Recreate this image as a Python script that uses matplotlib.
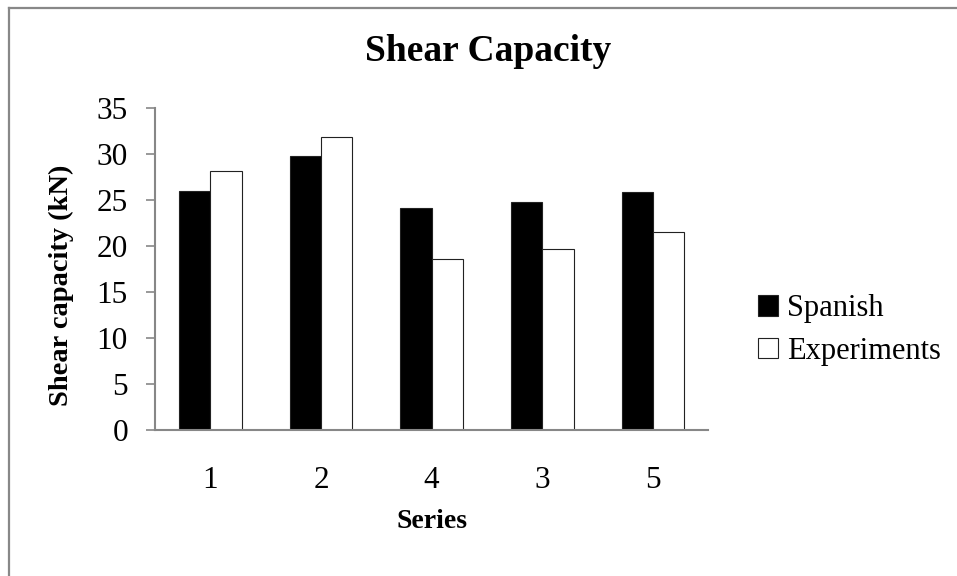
import matplotlib
matplotlib.use('Agg')
import matplotlib.pyplot as plt
import numpy as np
from matplotlib.lines import Line2D

plt.rcParams['font.family'] = ['Liberation Serif', 'DejaVu Serif']

# data
series = ['1', '2', '4', '3', '5']
spanish = [26.0, 29.8, 24.1, 24.8, 25.9]
experiments = [28.2, 31.9, 18.6, 19.7, 21.5]

fig = plt.figure(figsize=(9.57, 5.76), dpi=100)
ax = fig.add_axes([0.162, 0.2535, 0.578, 0.559])

x = np.arange(len(series))
w = 0.283
ax.bar(x - w/2, spanish, w, color='black', edgecolor='#222222', lw=0.8, label='Spanish')
ax.bar(x + w/2, experiments, w, color='white', edgecolor='#222222', lw=0.8, label='Experiments')

ax.set_xlim(-0.5, len(series) - 0.5)
ax.set_ylim(0, 35)
ax.set_yticks(np.arange(0, 36, 5))
ax.set_xticks(x)
ax.set_xticklabels(series)

for s in ['top', 'right']:
    ax.spines[s].set_visible(False)
for s in ['left', 'bottom']:
    ax.spines[s].set_color('#878787')
    ax.spines[s].set_linewidth(1.5)

ax.tick_params(axis='y', length=6.5, width=1.2, color='#878787', labelsize=22.5, pad=13)
ax.tick_params(axis='x', length=0, labelsize=22.5, pad=26)

fig.text(0.51, 0.91, 'Shear Capacity', fontsize=27, fontweight='bold', ha='center', va='center')
ax.set_xlabel('Series', fontsize=20, fontweight='bold', labelpad=10)
ax.set_ylabel('Shear capacity (kN)', fontsize=20.5, fontweight='bold')
ax.yaxis.set_label_coords(-0.147, 0.45)

ax.legend(loc='center left', bbox_to_anchor=(0.792, 0.427), bbox_transform=fig.transFigure,
          frameon=False, fontsize=22, handlelength=0.65, handleheight=0.65,
          handletextpad=0.3, labelspacing=0.45, borderpad=0, borderaxespad=0)

# chart border (only top and left edges show in the crop)
fig.add_artist(Line2D([0.0094, 1.0], [0.986, 0.986], transform=fig.transFigure, color='#888888', lw=1.6))
fig.add_artist(Line2D([0.0094, 0.0094], [0.0, 0.986], transform=fig.transFigure, color='#888888', lw=1.6))

fig.savefig('out.png', dpi=100)
